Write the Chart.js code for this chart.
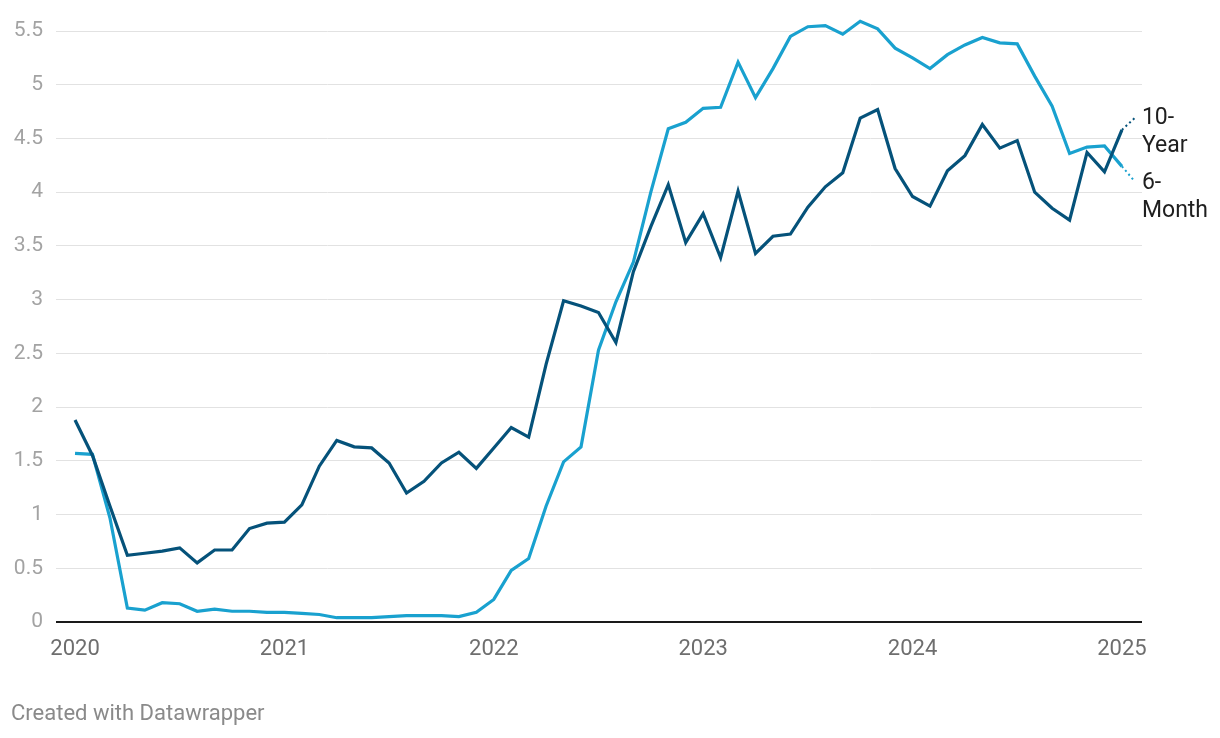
<!DOCTYPE html>
<html>
<head>
<meta charset="utf-8">
<script src="https://cdn.jsdelivr.net/npm/chart.js@4"></script>
<style>
    html, body { margin: 0; padding: 0; background: #fff; }
    #wrap { position: relative; width: 1220px; height: 738px; }
    #footer {
        position: absolute; left: 11px; top: 700px;
        font-family: Roboto, sans-serif; font-size: 22px; color: #8a8a8a;
    }
</style>
</head>
<body>
<div id="wrap">
    <canvas id="rates" width="1220" height="738"></canvas>
    <div id="footer">Created with Datawrapper</div>
</div>
<script>
// Monthly readings, Jan 2020 .. Jan 2025
const months = [];
for (let y = 2020; y <= 2025; y++) {
    for (let m = 1; m <= 12; m++) {
        if (y === 2025 && m > 1) break;
        months.push(y + '-' + String(m).padStart(2, '0'));
    }
}

const tenYear = [
    1.88, 1.55, 1.08, 0.62, 0.64, 0.66, 0.69, 0.55, 0.67, 0.67, 0.87, 0.92,
    0.93, 1.09, 1.45, 1.69, 1.63, 1.62, 1.48, 1.20, 1.31, 1.48, 1.58, 1.43,
    1.62, 1.81, 1.72, 2.40, 2.99, 2.94, 2.88, 2.60, 3.26, 3.68, 4.07, 3.53,
    3.80, 3.39, 4.01, 3.43, 3.59, 3.61, 3.86, 4.05, 4.18, 4.69, 4.77, 4.22,
    3.96, 3.87, 4.20, 4.34, 4.63, 4.41, 4.48, 4.00, 3.85, 3.74, 4.37, 4.19,
    4.58
];

const sixMonth = [
    1.57, 1.56, 0.97, 0.13, 0.11, 0.18, 0.17, 0.10, 0.12, 0.10, 0.10, 0.09,
    0.09, 0.08, 0.07, 0.04, 0.04, 0.04, 0.05, 0.06, 0.06, 0.06, 0.05, 0.09,
    0.21, 0.48, 0.59, 1.08, 1.49, 1.63, 2.53, 2.98, 3.35, 4.00, 4.59, 4.65,
    4.78, 4.79, 5.21, 4.88, 5.15, 5.45, 5.54, 5.55, 5.47, 5.59, 5.52, 5.34,
    5.25, 5.15, 5.28, 5.37, 5.44, 5.39, 5.38, 5.08, 4.80, 4.36, 4.42, 4.43,
    4.24
];

const yearTicks = ['2020', '2021', '2022', '2023', '2024', '2025'];
const seriesNames = [['10-', 'Year'], ['6-', 'Month']];

const colors = {
    tenYear: '#05527a',
    sixMonth: '#19a1cf',
    grid: '#e2e2e2',
    yText: '#a3a3a3',
    xText: '#6e6e6e',
    label: '#1f1f1f'
};

const toPoints = arr => arr.map((v, i) => ({ x: i, y: v }));

// End-of-line labels with the little dotted connector
const lineLabels = {
    id: 'lineLabels',
    afterDatasetsDraw(chart) {
        const ctx = chart.ctx;
        const setup = [
            { dx: 14, dy: -13, base: -6 },
            { dx: 12, dy: 14, base: 23 }
        ];
        chart.data.datasets.forEach((ds, di) => {
            const meta = chart.getDatasetMeta(di);
            const last = meta.data[meta.data.length - 1];
            const s = setup[di];
            ctx.save();
            ctx.strokeStyle = ds.borderColor;
            ctx.lineWidth = 2;
            ctx.setLineDash([2, 3]);
            ctx.beginPath();
            ctx.moveTo(last.x, last.y);
            ctx.lineTo(last.x + s.dx, last.y + s.dy);
            ctx.stroke();
            ctx.setLineDash([]);
            ctx.fillStyle = colors.label;
            ctx.font = '23px Roboto';
            ctx.textAlign = 'left';
            ctx.textBaseline = 'alphabetic';
            seriesNames[di].forEach((t, li) => {
                ctx.fillText(t, last.x + 20, last.y + s.base + li * 28);
            });
            ctx.restore();
        });
    }
};

new Chart(document.getElementById('rates'), {
    type: 'line',
    data: {
        datasets: [{
            label: '10-Year',
            data: toPoints(tenYear),
            borderColor: colors.tenYear,
            borderWidth: 3.2,
            pointRadius: 0,
            tension: 0,
            clip: false
        }, {
            label: '6-Month',
            data: toPoints(sixMonth),
            borderColor: colors.sixMonth,
            borderWidth: 3.2,
            pointRadius: 0,
            tension: 0,
            clip: false
        }]
    },
    options: {
        responsive: false,
        animation: false,
        layout: { padding: { top: 31, right: 78, left: 0, bottom: 0 } },
        plugins: {
            legend: { display: false },
            tooltip: { enabled: false }
        },
        scales: {
            x: {
                type: 'linear',
                min: -1.09,
                max: 61.15,
                afterBuildTicks: scale => {
                    scale.ticks = yearTicks.map((_, i) => ({ value: i * 12 }));
                },
                afterFit: scale => { scale.height = 116; },
                grid: { display: false },
                border: { display: false },
                ticks: {
                    autoSkip: false,
                    maxRotation: 0,
                    padding: 6,
                    color: colors.xText,
                    font: { family: 'Roboto', size: 22 },
                    callback: (v) => yearTicks[v / 12]
                }
            },
            y: {
                min: 0,
                max: 5.5,
                afterFit: scale => { scale.width = 56; },
                border: { display: false },
                grid: {
                    drawTicks: false,
                    color: c => c.tick.value === 0 ? '#1a1a1a' : colors.grid,
                    lineWidth: c => c.tick.value === 0 ? 2 : 1
                },
                ticks: {
                    stepSize: 0.5,
                    padding: 13,
                    color: colors.yText,
                    font: { family: 'Roboto', size: 21 },
                    callback: v => String(v)
                }
            }
        }
    },
    plugins: [lineLabels]
});
</script>
</body>
</html>
